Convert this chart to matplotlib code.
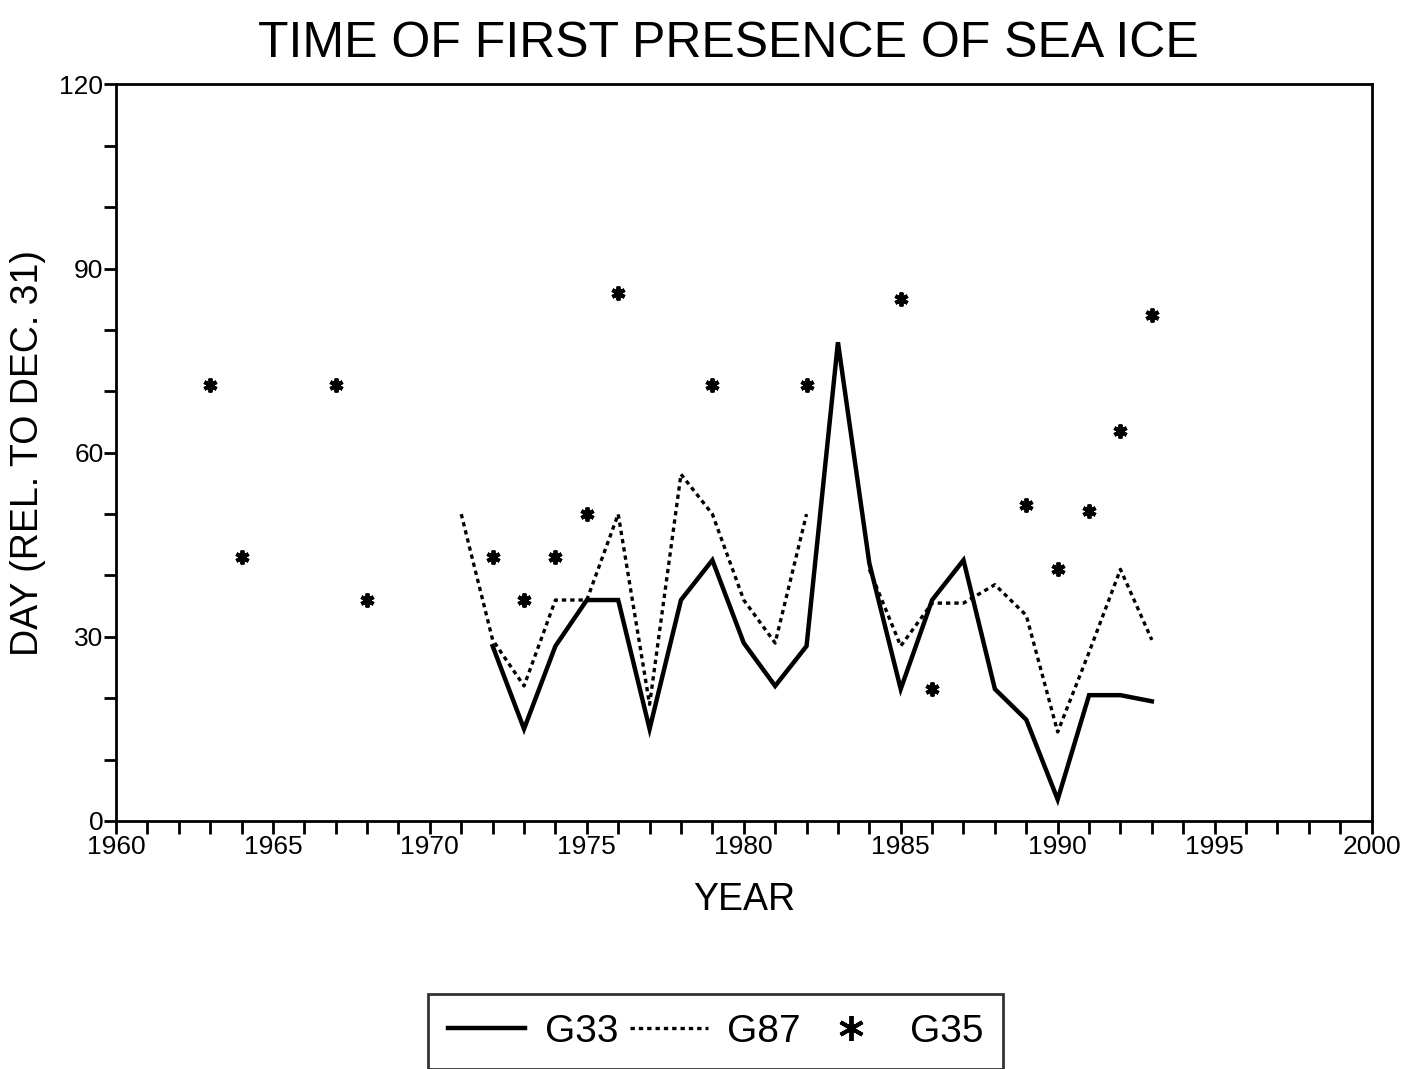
import numpy as np
import matplotlib
matplotlib.use('Agg')
import matplotlib.pyplot as plt
from matplotlib.ticker import MultipleLocator

plt.rcParams['font.family'] = ['Liberation Sans', 'DejaVu Sans']

# Data
years_g33 = np.arange(1972, 1994)
g33 = [28.5, 15, 28.5, 36, 36, 15, 36, 42.5, 29, 22, 28.5,
       78, 42, 21.5, 36, 42.5, 21.5, 16.5, 3.5, 20.5, 20.5, 19.5]

years_g87 = np.arange(1971, 1994)
g87 = [50, 29.5, 22, 36, 36, 50, 19, 56.5, 50, 36, 29, 50,
       np.nan, 41, 28.5, 35.5, 35.5, 38.5, 33.5, 14.5, 27.5, 41, 29.5]

years_g35 = [1963, 1964, 1967, 1968, 1972, 1973, 1974, 1975, 1976, 1979,
             1982, 1985, 1986, 1989, 1990, 1991, 1992, 1993]
g35 = [71, 43, 71, 36, 43, 36, 43, 50, 86, 71,
       71, 85, 21.5, 51.5, 41, 50.5, 63.5, 82.5]

fig = plt.figure(figsize=(14.14, 10.69), dpi=100)
ax = fig.add_axes([0.082, 0.232, 0.888, 0.689])

ax.plot(years_g33, g33, color='black', lw=3.2, solid_joinstyle='miter', label='G33')
ax.plot(years_g87, g87, color='black', lw=2.4, linestyle=(0, (1.3, 1.2)), label='G87')
ax.plot(years_g35, g35, linestyle='none', marker=(6, 2, 0), markersize=10,
        mew=2.8, color='black', label='G35')

ax.set_xlim(1960, 2000)
ax.set_ylim(0, 120)
ax.xaxis.set_major_locator(MultipleLocator(5))
ax.xaxis.set_minor_locator(MultipleLocator(1))
ax.yaxis.set_major_locator(MultipleLocator(30))
ax.yaxis.set_minor_locator(MultipleLocator(10))
ax.tick_params(which='both', direction='out', width=2, length=9, labelsize=19)
ax.tick_params(axis='x', pad=1)
ax.tick_params(axis='y', pad=0)
for s in ax.spines.values():
    s.set_linewidth(2)

ax.set_xlabel('YEAR', fontsize=27, labelpad=17)
ax.set_ylabel('DAY (REL. TO DEC. 31)', fontsize=27, labelpad=10)
fig.text(0.515, 0.9467, 'TIME OF FIRST PRESENCE OF SEA ICE', fontsize=36,
         ha='center', va='baseline')

leg = fig.legend(loc='center', bbox_to_anchor=(0.506, 0.035), ncol=3, fontsize=28,
                 frameon=True, fancybox=False, edgecolor='black', handlelength=2.0,
                 columnspacing=0.3, handletextpad=0.5, borderpad=0.5, borderaxespad=0)
leg.get_frame().set_linewidth(2)
leg.legend_handles[2].set_markersize(18)

fig.savefig('out.png', dpi=100)
